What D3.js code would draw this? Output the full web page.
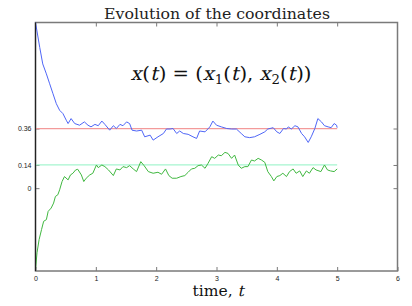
<!DOCTYPE html>
<html>
<head>
<meta charset="utf-8">
<script src="https://cdn.jsdelivr.net/npm/d3@7"></script>
<style>
  body { margin: 0; background: #fff; }
  svg { display: block; }
  .serif { font-family: "DejaVu Serif", "Liberation Serif", serif; white-space: pre; }
</style>
</head>
<body>
<svg id="canvas" width="412" height="306"></svg>
<script>
// x1(t)
let blueT = [0, 0.07, 0.12, 0.18, 0.235, 0.29, 0.345, 0.40, 0.455, 0.51, 0.54, 0.59, 0.65, 0.73, 0.81, 0.87, 0.92, 0.985, 1.04, 1.10, 1.15, 1.23, 1.29, 1.34, 1.40, 1.45, 1.51, 1.56, 1.60, 1.675, 1.76, 1.81, 1.90, 1.95, 2.03, 2.12, 2.17, 2.23, 2.28, 2.34, 2.39, 2.45, 2.53, 2.61, 2.67, 2.72, 2.81, 2.89, 2.94, 3.00, 3.08, 3.17, 3.25, 3.33, 3.41, 3.47, 3.55, 3.63, 3.72, 3.80, 3.85, 3.94, 4.00, 4.05, 4.11, 4.16, 4.19, 4.24, 4.30, 4.35, 4.41, 4.46, 4.52, 4.57, 4.63, 4.68, 4.74, 4.79, 4.85, 4.90, 4.95, 4.99, 5.00]
let blueX = [1.00, 0.85, 0.75, 0.69, 0.63, 0.57, 0.51, 0.47, 0.45, 0.41, 0.39, 0.42, 0.39, 0.38, 0.40, 0.38, 0.37, 0.385, 0.377, 0.405, 0.385, 0.35, 0.377, 0.36, 0.385, 0.377, 0.40, 0.39, 0.35, 0.345, 0.35, 0.31, 0.32, 0.29, 0.31, 0.33, 0.357, 0.357, 0.36, 0.33, 0.345, 0.33, 0.325, 0.31, 0.30, 0.345, 0.34, 0.37, 0.405, 0.38, 0.37, 0.36, 0.357, 0.357, 0.33, 0.31, 0.305, 0.31, 0.325, 0.34, 0.357, 0.365, 0.34, 0.33, 0.36, 0.357, 0.37, 0.357, 0.377, 0.37, 0.33, 0.31, 0.276, 0.31, 0.36, 0.42, 0.40, 0.377, 0.37, 0.365, 0.39, 0.38, 0.365]

// x2(t)
let greenT = [0, 0.025, 0.06, 0.10, 0.135, 0.18, 0.21, 0.26, 0.30, 0.33, 0.37, 0.40, 0.44, 0.48, 0.54, 0.58, 0.62, 0.665, 0.70, 0.76, 0.80, 0.84, 0.90, 0.95, 1.01, 1.04, 1.10, 1.15, 1.21, 1.29, 1.34, 1.40, 1.45, 1.51, 1.56, 1.62, 1.675, 1.745, 1.80, 1.87, 1.95, 2.03, 2.09, 2.155, 2.21, 2.265, 2.34, 2.41, 2.475, 2.53, 2.585, 2.64, 2.695, 2.75, 2.81, 2.86, 2.92, 2.97, 3.03, 3.08, 3.14, 3.19, 3.25, 3.30, 3.36, 3.41, 3.47, 3.52, 3.58, 3.63, 3.69, 3.745, 3.80, 3.85, 3.91, 3.95, 4.00, 4.05, 4.10, 4.16, 4.21, 4.27, 4.32, 4.38, 4.43, 4.49, 4.54, 4.60, 4.65, 4.73, 4.79, 4.84, 4.89, 4.95, 5.00]
let greenX = [-0.49, -0.39, -0.31, -0.25, -0.20, -0.19, -0.14, -0.12, -0.09, -0.05, -0.04, -0.01, 0.04, 0.07, 0.05, 0.08, 0.09, 0.11, 0.114, 0.08, 0.04, 0.06, 0.08, 0.09, 0.14, 0.124, 0.14, 0.13, 0.11, 0.076, 0.116, 0.11, 0.13, 0.124, 0.136, 0.116, 0.10, 0.16, 0.136, 0.10, 0.09, 0.096, 0.084, 0.116, 0.076, 0.06, 0.06, 0.07, 0.076, 0.096, 0.116, 0.12, 0.136, 0.14, 0.12, 0.15, 0.19, 0.18, 0.20, 0.196, 0.216, 0.21, 0.18, 0.20, 0.14, 0.12, 0.13, 0.13, 0.17, 0.164, 0.18, 0.17, 0.156, 0.10, 0.07, 0.044, 0.07, 0.076, 0.09, 0.07, 0.10, 0.116, 0.09, 0.104, 0.07, 0.104, 0.09, 0.124, 0.11, 0.10, 0.14, 0.11, 0.104, 0.10, 0.116]

// long-run means
let meanValues = [0.36, 0.14]
let meanColors = ['#f39a9a', '#a6f5cf']
let meanEnd = 5

let xTicks = [0, 1, 2, 3, 4, 5, 6]
let yTicks = [0, 0.14, 0.36]
let yTickLabels = ['0', '0.14', '0.36']

let canvas = d3.select('#canvas')

let plotLeft = 35.5, plotRight = 397.5, plotTop = 22.5, plotBottom = 271
let xScale = d3.scaleLinear().domain([0, 6]).range([plotLeft, plotRight])
let yScale = d3.scaleLinear().domain([-0.5, 1]).range([plotBottom, plotTop])

// frame
canvas.append('rect')
    .attr('x', plotLeft).attr('y', plotTop)
    .attr('width', plotRight - plotLeft).attr('height', plotBottom - plotTop)
    .attr('fill', 'none')
    .attr('stroke', '#7a7a7a')
    .attr('stroke-width', 1.5)

let xAxisBottom = d3.axisBottom(xScale).tickValues(xTicks).tickSize(-4).tickPadding(5)
    .tickFormat(d3.format('d'))
let xAxisTop = d3.axisTop(xScale).tickValues(xTicks.slice(1, -1)).tickSize(-4).tickFormat('')
let yAxisLeft = d3.axisLeft(yScale).tickValues(yTicks).tickSize(-4).tickPadding(4)
    .tickFormat((d, i) => yTickLabels[i])
let yAxisRight = d3.axisRight(yScale).tickValues(yTicks).tickSize(-4).tickFormat('')

let styleAxis = (g) => {
    g.select('.domain').remove()
    g.selectAll('.tick line').attr('stroke', '#7a7a7a')
    g.selectAll('.tick text')
        .attr('fill', '#222')
        .style('font-family', '"Liberation Sans", Arial, sans-serif')
        .style('font-size', '7px')
}

canvas.append('g').attr('transform', 'translate(0,' + plotBottom + ')').call(xAxisBottom).call(styleAxis)
canvas.append('g').attr('transform', 'translate(0,' + plotTop + ')').call(xAxisTop).call(styleAxis)
canvas.append('g').attr('transform', 'translate(' + plotLeft + ',0)').call(yAxisLeft).call(styleAxis)
canvas.append('g').attr('transform', 'translate(' + plotRight + ',0)').call(yAxisRight).call(styleAxis)

// mean lines
canvas.selectAll('.mean')
    .data(meanValues)
    .enter()
    .append('line')
    .attr('class', 'mean')
    .attr('x1', xScale(0)).attr('x2', xScale(meanEnd))
    .attr('y1', (d) => yScale(d)).attr('y2', (d) => yScale(d))
    .attr('stroke', (d, i) => meanColors[i])
    .attr('stroke-width', 1.3)

let line = d3.line()
    .x((d) => xScale(d[0]))
    .y((d) => yScale(d[1]))

canvas.append('path')
    .datum(blueT.map((t, i) => [t, blueX[i]]))
    .attr('d', line)
    .attr('fill', 'none')
    .attr('stroke', '#4f66f7')
    .attr('stroke-width', 1)

canvas.append('path')
    .datum(greenT.map((t, i) => [t, greenX[i]]))
    .attr('d', line)
    .attr('fill', 'none')
    .attr('stroke', '#40b840')
    .attr('stroke-width', 1)

// left axis line is drawn dark
canvas.append('line')
    .attr('x1', plotLeft).attr('x2', plotLeft)
    .attr('y1', plotTop).attr('y2', plotBottom)
    .attr('stroke', '#222')
    .attr('stroke-width', 1.2)

// title
canvas.append('text')
    .attr('class', 'serif')
    .attr('x', 217).attr('y', 19)
    .attr('text-anchor', 'middle')
    .style('font-size', '14px')
    .attr('textLength', 226)
    .attr('lengthAdjust', 'spacingAndGlyphs')
    .attr('fill', '#222')
    .text('Evolution of the coordinates')

// math-style text: pieces laid out one after another, italics slanted by hand
// so the serif face is kept
let drawMath = (parts, centerX, baseline, size, width) => {
    let g = canvas.append('g')
    let inner = g.append('g')
    let cursor = 0
    parts.forEach((p) => {
        let fs = p.sub ? size * 0.68 : size
        let dy = p.sub ? size * 0.22 : 0
        let piece = inner.append('text')
            .attr('class', 'serif')
            .style('font-size', fs + 'px')
            .attr('fill', '#111')
            .text(p.s)
        let w = piece.node().getComputedTextLength()
        if (p.it) {
            piece.attr('transform', 'translate(' + cursor + ',' + dy + ') skewX(-13)')
        } else {
            piece.attr('transform', 'translate(' + cursor + ',' + dy + ')')
        }
        cursor += w + (p.it ? size * 0.04 : 0)
    })
    let k = width ? width / cursor : 1
    g.attr('transform', 'translate(' + (centerX - cursor * k / 2) + ',' + baseline + ') scale(' + k + ',1)')
}

drawMath([
    {s: 'x', it: true}, {s: '('}, {s: 't', it: true}, {s: ') = ('},
    {s: 'x', it: true}, {s: '1', sub: true}, {s: '('}, {s: 't', it: true}, {s: '), '},
    {s: 'x', it: true}, {s: '2', sub: true}, {s: '('}, {s: 't', it: true}, {s: '))'}
], 221, 80, 19, 181)

drawMath([{s: 'time, '}, {s: 't', it: true}], 218.5, 296, 15, 52)
</script>
</body>
</html>
